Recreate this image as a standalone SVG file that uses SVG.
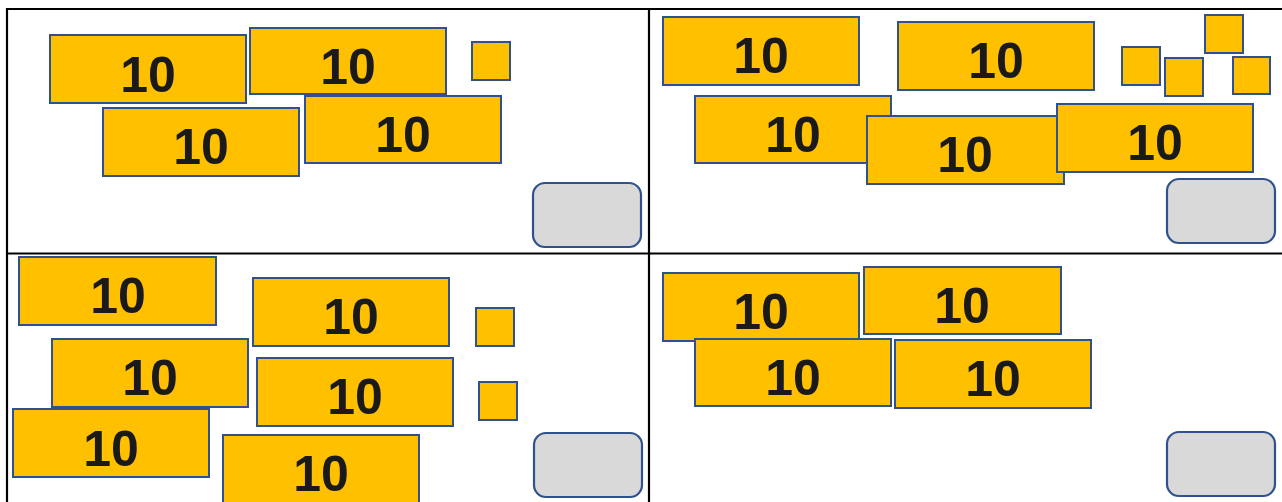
<svg xmlns="http://www.w3.org/2000/svg" width="1282" height="502" viewBox="0 0 1282 502">
<style>
.grid{stroke:#000;stroke-width:2.2;fill:none}
.ten rect{fill:#FFC000;stroke:#2F528F;stroke-width:2}
.ten text{font-family:"Liberation Sans",Arial,sans-serif;font-weight:bold;font-size:50px;fill:#1a1a1a;text-anchor:middle}
.unit{fill:#FFC000;stroke:#2F528F;stroke-width:2}
.ans{fill:#D9D9D9;stroke:#2F528F;stroke-width:2.2}
</style>
<rect width="1282" height="502" fill="#fff"/>
<g id="grid">
<line class="grid" x1="6" y1="9" x2="1282" y2="9"/>
<line class="grid" x1="6" y1="253.5" x2="1282" y2="253.5"/>
<line class="grid" x1="7" y1="8" x2="7" y2="502"/>
<line class="grid" x1="649" y1="8" x2="649" y2="502"/>
</g>
<!-- Panel 1 -->
<g id="p1a" class="ten"><rect x="50" y="35" width="196" height="68"/><text x="148" y="92">10</text></g>
<g id="p1b" class="ten"><rect x="250" y="28" width="196" height="66"/><text x="348" y="84">10</text></g>
<g id="p1c" class="ten"><rect x="103" y="108" width="196" height="68"/><text x="201" y="164">10</text></g>
<g id="p1d" class="ten"><rect x="305" y="96" width="196" height="67"/><text x="403" y="152">10</text></g>
<g id="p1u1"><rect class="unit" x="472" y="42" width="38" height="38"/></g>
<g id="p1ans"><rect class="ans" x="533" y="183" width="108" height="64" rx="12"/></g>
<!-- Panel 2 -->
<g id="p2a" class="ten"><rect x="663" y="17" width="196" height="68"/><text x="761" y="73">10</text></g>
<g id="p2b" class="ten"><rect x="898" y="22" width="196" height="68"/><text x="996" y="78">10</text></g>
<g id="p2c" class="ten"><rect x="695" y="96" width="196" height="67"/><text x="793" y="152">10</text></g>
<g id="p2d" class="ten"><rect x="867" y="116" width="197" height="68"/><text x="965" y="172">10</text></g>
<g id="p2e" class="ten"><rect x="1057" y="104" width="196" height="68"/><text x="1155" y="160">10</text></g>
<g id="p2u1"><rect class="unit" x="1122" y="47" width="38" height="38"/></g>
<g id="p2u2"><rect class="unit" x="1165" y="58" width="38" height="38"/></g>
<g id="p2u3"><rect class="unit" x="1205" y="15" width="38" height="38"/></g>
<g id="p2u4"><rect class="unit" x="1233" y="57" width="37" height="37"/></g>
<g id="p2ans"><rect class="ans" x="1167" y="179" width="108" height="64" rx="12"/></g>
<!-- Panel 3 -->
<g id="p3a" class="ten"><rect x="19" y="257" width="197" height="68"/><text x="118" y="313">10</text></g>
<g id="p3b" class="ten"><rect x="253" y="278" width="196" height="68"/><text x="351" y="334">10</text></g>
<g id="p3c" class="ten"><rect x="52" y="339" width="196" height="68"/><text x="150" y="395">10</text></g>
<g id="p3d" class="ten"><rect x="257" y="358" width="196" height="68"/><text x="355" y="414">10</text></g>
<g id="p3e" class="ten"><rect x="13" y="409" width="196" height="68"/><text x="111" y="466">10</text></g>
<g id="p3f" class="ten"><rect x="223" y="435" width="196" height="68"/><text x="321" y="491">10</text></g>
<g id="p3u1"><rect class="unit" x="476" y="308" width="38" height="38"/></g>
<g id="p3u2"><rect class="unit" x="479" y="382" width="38" height="38"/></g>
<g id="p3ans"><rect class="ans" x="534" y="433" width="108" height="64" rx="12"/></g>
<!-- Panel 4 -->
<g id="p4a" class="ten"><rect x="663" y="273" width="196" height="68"/><text x="761" y="329">10</text></g>
<g id="p4b" class="ten"><rect x="864" y="267" width="197" height="67"/><text x="962" y="323">10</text></g>
<g id="p4c" class="ten"><rect x="695" y="339" width="196" height="67"/><text x="793" y="395">10</text></g>
<g id="p4d" class="ten"><rect x="895" y="340" width="196" height="68"/><text x="993" y="396">10</text></g>
<g id="p4ans"><rect class="ans" x="1167" y="432" width="108" height="64" rx="12"/></g>
</svg>
